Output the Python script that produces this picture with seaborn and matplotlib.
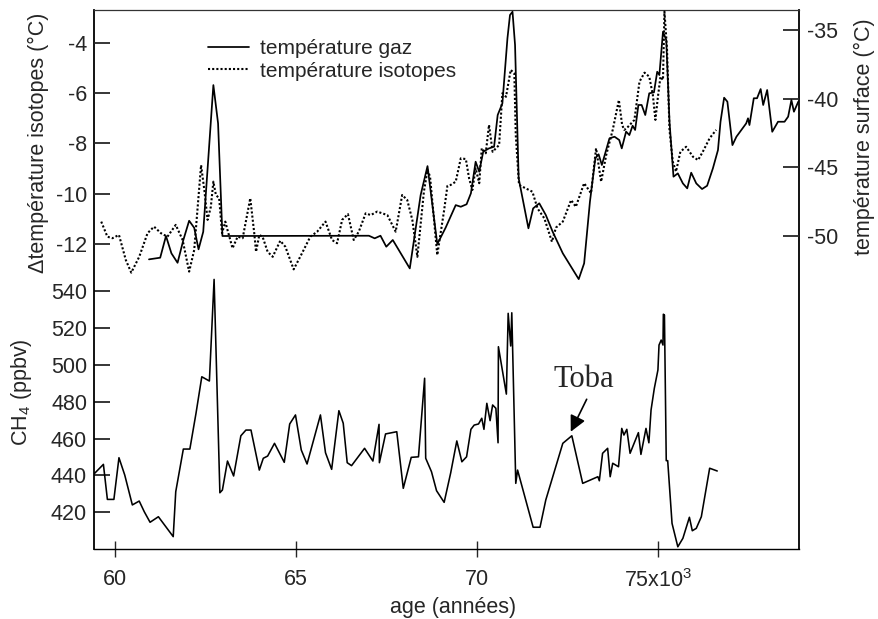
import numpy as np
import pandas as pd
import matplotlib
matplotlib.use("Agg")
import matplotlib.pyplot as plt
import seaborn as sns

# ---------------- data ----------------
# temperature gaz (surface temperature, right axis, degC)
gas_age = [60.93, 61.24, 61.40, 61.55, 61.72, 61.88, 62.04, 62.18, 62.30, 62.43,
           62.71, 62.84, 62.96, 67.01, 67.17, 67.33, 67.49, 67.67, 68.14, 68.44,
           68.63, 68.90, 69.13, 69.41, 69.55, 69.71, 69.83, 69.96, 70.06, 70.17,
           70.33, 70.47, 70.57, 70.70, 70.84, 70.91, 70.98, 71.05, 71.15, 71.42,
           71.55, 71.72, 71.90, 72.09, 72.37, 72.81, 72.96, 73.12, 73.27, 73.36,
           73.45, 73.66, 73.80, 73.93, 74.00, 74.12, 74.21, 74.30, 74.37, 74.46,
           74.55, 74.65, 74.76, 74.89, 74.98, 75.04, 75.14, 75.23, 75.32, 75.43,
           75.55, 75.69, 75.81, 75.92, 76.06, 76.22, 76.36, 76.52, 76.66, 76.73,
           76.83, 76.92, 77.06, 77.17, 77.44, 77.49, 77.53, 77.65, 77.74, 77.84,
           77.91, 78.02, 78.16, 78.32, 78.50, 78.60, 78.69, 78.76, 78.88, 78.97]
gas_temp = [-51.70, -51.58, -50.00, -51.26, -51.95, -50.29, -48.89, -49.40, -50.97, -49.69,
            -39.01, -41.80, -50.00, -49.98, -50.17, -49.98, -50.78, -50.29, -52.36, -47.02,
            -44.91, -50.59, -49.40, -47.75, -47.87, -47.69, -46.89, -44.59, -45.32, -43.86,
            -43.62, -43.50, -41.19, -40.34, -35.60, -33.91, -33.67, -36.09, -45.80, -49.44,
            -47.99, -47.62, -48.47, -49.69, -51.26, -53.14, -51.99, -47.51, -44.34, -44.05,
            -44.83, -42.89, -42.77, -43.01, -43.62, -42.40, -42.65, -41.97, -42.28, -40.46,
            -40.46, -41.19, -39.61, -39.54, -38.04, -38.28, -35.12, -35.73, -41.68, -45.68,
            -45.44, -46.17, -46.53, -45.39, -46.17, -46.58, -46.34, -45.07, -43.74, -41.68,
            -39.93, -40.22, -43.38, -42.77, -41.80, -41.43, -41.92, -39.97, -39.97, -39.30,
            -40.46, -39.37, -42.41, -41.68, -41.68, -41.31, -40.10, -40.95, -40.22, -40.22]

# temperature isotopes (delta, left axis, degC)
iso_age = [59.61, 59.78, 59.92, 60.10, 60.29, 60.44, 60.66, 60.89, 61.07, 61.26,
           61.44, 61.67, 61.86, 62.04, 62.18, 62.37, 62.46, 62.55, 62.64, 62.71,
           62.78, 62.87, 62.95, 63.04, 63.10, 63.24, 63.38, 63.52, 63.73, 63.84,
           63.89, 63.98, 64.07, 64.21, 64.35, 64.56, 64.70, 64.93, 65.16, 65.39,
           65.58, 65.81, 65.99, 66.13, 66.27, 66.43, 66.59, 66.73, 66.92, 67.06,
           67.24, 67.52, 67.75, 67.93, 68.07, 68.21, 68.35, 68.53, 68.63, 68.70,
           68.90, 69.09, 69.18, 69.27, 69.41, 69.55, 69.69, 69.78, 69.87, 69.96,
           70.06, 70.13, 70.24, 70.33, 70.43, 70.61, 70.70, 70.80, 70.93, 71.03,
           71.07, 71.16, 71.53, 71.67, 71.86, 72.07, 72.18, 72.37, 72.60, 72.73,
           72.96, 73.15, 73.29, 73.43, 73.57, 73.75, 73.92, 74.01, 74.07, 74.17,
           74.35, 74.49, 74.63, 74.76, 74.86, 74.93, 75.00, 75.07, 75.14, 75.18,
           75.25, 75.32, 75.41, 75.50, 75.62, 75.78, 75.97, 76.11, 76.24, 76.43,
           76.61]
iso_temp = [-11.11, -11.71, -11.77, -11.64, -12.64, -13.14, -12.51, -11.57, -11.31, -11.57,
            -11.71, -11.24, -11.84, -13.10, -12.24, -8.86, -9.85, -11.04, -10.52, -9.52,
            -10.05, -10.18, -11.57, -11.11, -11.44, -12.17, -11.71, -11.77, -10.18, -11.57,
            -12.31, -11.64, -11.71, -12.31, -12.51, -11.87, -12.11, -13.01, -12.37, -11.71,
            -11.51, -11.11, -11.84, -11.97, -11.04, -10.81, -11.84, -11.51, -10.78, -10.85,
            -10.71, -10.85, -11.51, -10.05, -10.25, -11.04, -12.51, -9.92, -9.05, -9.32,
            -12.44, -10.65, -9.69, -9.65, -9.52, -8.59, -8.62, -9.39, -9.85, -8.99,
            -9.58, -8.19, -8.39, -7.26, -8.33, -8.06, -6.00, -6.14, -5.07, -5.21,
            -7.66, -9.65, -9.92, -10.58, -10.98, -11.91, -11.35, -11.11, -10.25, -10.52,
            -9.58, -9.98, -8.19, -9.52, -8.46, -7.46, -6.27, -7.26, -7.46, -7.34,
            -7.06, -5.54, -5.18, -5.34, -6.07, -7.06, -6.14, -5.34, -5.47, -2.75,
            -4.20, -7.46, -8.72, -9.12, -8.33, -8.13, -8.53, -8.66, -8.33, -7.79,
            -7.46]

# CH4 (ppbv)
ch4_age = [59.41, 59.67, 59.78, 59.96, 60.10, 60.26, 60.47, 60.66, 60.80, 60.96,
           61.19, 61.60, 61.67, 61.88, 62.06, 62.23, 62.39, 62.60, 62.73, 62.89,
           62.96, 63.10, 63.27, 63.47, 63.61, 63.75, 63.98, 64.09, 64.21, 64.40,
           64.67, 64.82, 64.98, 65.14, 65.30, 65.67, 65.81, 65.98, 66.18, 66.30,
           66.41, 66.53, 66.89, 67.12, 67.29, 67.30, 67.47, 67.78, 67.96, 68.18,
           68.38, 68.55, 68.58, 68.74, 68.88, 69.09, 69.27, 69.44, 69.58, 69.71,
           69.83, 69.92, 70.04, 70.13, 70.19, 70.27, 70.36, 70.43, 70.52, 70.58,
           70.59, 70.81, 70.86, 70.93, 70.96, 71.07, 71.12, 71.55, 71.74, 71.90,
           72.37, 72.62, 72.92, 73.34, 73.38, 73.47, 73.61, 73.68, 73.75, 73.91,
           74.00, 74.06, 74.14, 74.23, 74.46, 74.53, 74.67, 74.75, 74.81, 74.90,
           75.00, 75.03, 75.09, 75.14, 75.15, 75.18, 75.23, 75.27, 75.39, 75.55,
           75.69, 75.87, 75.95, 76.06, 76.20, 76.43, 76.64]
ch4_val = [440.8, 446.0, 427.0, 427.0, 449.6, 440.2, 424.0, 426.1, 420.3, 414.6,
           417.6, 406.8, 431.2, 454.3, 454.3, 473.7, 493.5, 491.2, 546.3, 430.6,
           432.1, 447.8, 439.7, 461.5, 464.6, 464.6, 442.9, 449.3, 450.5, 457.4,
           447.1, 467.9, 472.8, 453.8, 446.2, 472.8, 452.3, 443.3, 475.1, 468.3,
           446.9, 445.3, 454.7, 447.8, 467.7, 446.9, 462.5, 463.7, 433.0, 449.8,
           450.1, 492.7, 449.3, 442.0, 431.7, 425.4, 441.3, 458.7, 447.4, 450.1,
           465.0, 467.3, 467.9, 471.0, 465.0, 479.1, 469.7, 478.2, 476.4, 457.7,
           509.8, 484.1, 527.9, 510.2, 528.2, 435.7, 442.9, 411.9, 411.9, 426.7,
           457.4, 461.5, 435.7, 439.3, 437.1, 452.0, 454.7, 439.3, 446.6, 444.7,
           465.5, 461.9, 465.0, 452.0, 463.2, 451.4, 465.5, 457.7, 475.5, 487.2,
           497.2, 510.7, 513.4, 510.7, 527.4, 527.0, 448.0, 448.0, 414.0, 401.3,
           405.9, 417.3, 410.0, 411.3, 417.6, 443.9, 442.4]

x_ticks = [60, 65, 70, 75]
x_ticklabels = ["60", "65", "70", "75x10$^3$"]
delta_ticks = [-4, -6, -8, -10, -12]
surf_ticks = [-35, -40, -45, -50]
ch4_ticks = [420, 440, 460, 480, 500, 520, 540]
toba_age, toba_ch4 = 72.59, 463.7

# ---------------- style ----------------
sns.set_style("white")
plt.rcParams["font.family"] = ["Liberation Sans", "DejaVu Sans"]
plt.rcParams["mathtext.default"] = "regular"
plt.rcParams["axes.unicode_minus"] = False

W, H = 879, 619
fig = plt.figure(figsize=(W / 100, H / 100), dpi=100)
L, R, T, B = 94, 799, 10, 549
rect = [L / W, 1 - B / H, (R - L) / W, (B - T) / H]

ax_ch4 = fig.add_axes(rect)
ax_top = fig.add_axes(rect, sharex=ax_ch4)
ax_r = ax_top.twinx()
for a in (ax_ch4, ax_top, ax_r):
    a.patch.set_alpha(0)

xlim = (59.41, 78.90)
FS = 15.5
TL = 11.5
LW = 1.15

# CH4 line
df_ch4 = pd.DataFrame({"age": ch4_age, "ch4": ch4_val})
sns.lineplot(data=df_ch4, x="age", y="ch4", ax=ax_ch4, sort=False, estimator=None,
             color="black", lw=LW)
ax_ch4.set_xlim(*xlim)
ax_ch4.set_ylim(400.1, 692.4)
ax_ch4.set_yticks(ch4_ticks)
ax_ch4.set_xticks(x_ticks)
ax_ch4.set_xticklabels(x_ticklabels)
ax_ch4.set_xlabel("")
ax_ch4.set_ylabel("")
ax_ch4.tick_params(axis="y", direction="in", length=TL, width=1.3, labelsize=FS, pad=5, left=True)
ax_ch4.tick_params(axis="x", direction="inout", length=TL, width=1.0, labelsize=FS, pad=8.5, bottom=True)
for s in ("left", "right", "bottom", "top"):
    ax_ch4.spines[s].set_visible(True)
    ax_ch4.spines[s].set_color("black")
ax_ch4.spines["left"].set_linewidth(1.3)
ax_ch4.spines["right"].set_linewidth(1.3)
ax_ch4.spines["bottom"].set_linewidth(1.0)
ax_ch4.spines["top"].set_linewidth(0.9)
ax_ch4.spines["top"].set_color("#333333")

# isotopes (left, top panel)
df_iso = pd.DataFrame({"age": iso_age, "temp": iso_temp})
sns.lineplot(data=df_iso, x="age", y="temp", ax=ax_top, sort=False, estimator=None,
             color="black", lw=1.5, linestyle=(0, (1, 1)), label="température isotopes",
             legend=False)
ax_top.set_ylim(-24.14, -2.687)
ax_top.set_yticks(delta_ticks)
ax_top.set_xlabel("")
ax_top.set_ylabel("")
ax_top.tick_params(axis="y", direction="in", length=TL, width=1.3, labelsize=FS, pad=5, left=True)
ax_top.tick_params(axis="x", bottom=False, labelbottom=False)
for s in ax_top.spines.values():
    s.set_visible(False)

# gas temperature (right axis)
df_gas = pd.DataFrame({"age": gas_age, "temp": gas_temp})
sns.lineplot(data=df_gas, x="age", y="temp", ax=ax_r, sort=False, estimator=None,
             color="black", lw=LW + 0.1, label="température gaz", legend=False)
ax_r.set_ylim(-72.79, -33.544)
ax_r.set_yticks(surf_ticks)
ax_r.set_ylabel("")
ax_r.tick_params(axis="y", direction="in", length=TL, width=1.3, labelsize=FS, pad=6, right=True)
for s in ax_r.spines.values():
    s.set_visible(False)
ax_ch4.set_xlim(*xlim)

# legend
h_gas = ax_r.get_lines()[0]
h_iso = ax_top.get_lines()[0]
fig.legend([h_gas, h_iso], ["température gaz", "température isotopes"],
           loc="upper left", bbox_to_anchor=(208 / W, 1 - 39 / H), frameon=False,
           fontsize=15, handlelength=1.95, handletextpad=0.55, labelspacing=0.18,
           borderpad=0, borderaxespad=0)

# Toba annotation
ax_ch4.text(72.12, 488.1, "Toba", fontsize=22, family="Liberation Serif",
            ha="left", va="baseline")
ax_ch4.annotate("", xy=(toba_age, toba_ch4), xytext=(73.03, 481.3), textcoords="data",
                arrowprops=dict(arrowstyle="-|>", color="black", lw=1.2,
                                mutation_scale=24, shrinkA=0, shrinkB=0))

# axis labels
fig.text(38 / W, 1 - 143 / H, "Δtempérature isotopes (°C)", rotation=90,
         ha="center", va="center", fontsize=FS)
fig.text(22 / W, 1 - 392 / H, "CH$_4$ (ppbv)", rotation=90,
         ha="center", va="center", fontsize=FS)
fig.text(864 / W, 1 - 137 / H, "température surface (°C)", rotation=90,
         ha="center", va="center", fontsize=FS)
fig.text(453 / W, 1 - 607 / H, "age (années)", ha="center", va="center", fontsize=FS)

fig.savefig("out.png", dpi=100)
